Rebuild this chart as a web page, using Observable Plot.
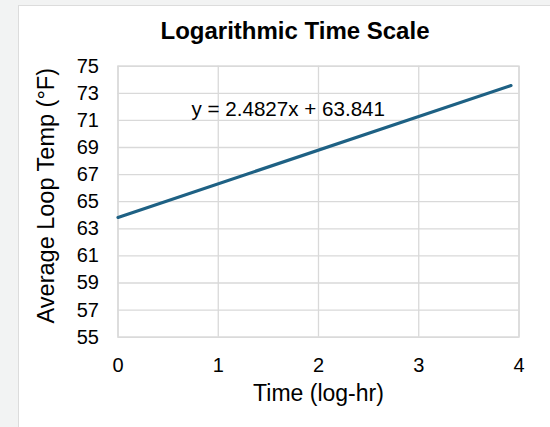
<!DOCTYPE html>
<html>
<head>
<meta charset="utf-8">
<script src="https://cdn.jsdelivr.net/npm/d3@7"></script>
<script src="https://cdn.jsdelivr.net/npm/@observablehq/plot@0.6"></script>
<style>
  html, body { margin: 0; padding: 0; }
  body { width: 550px; height: 427px; overflow: hidden; background: #f2f3f3; font-family: "Liberation Sans", Arial, sans-serif; }
  #wrap { position: relative; width: 550px; height: 427px; }
  #card { position: absolute; left: 18px; top: 5px; width: 560px; height: 440px; background: #fff; border: 1.5px solid #dcdcdc; box-sizing: border-box; }
  #title { position: absolute; left: 0; width: 590px; top: 16px; text-align: center; font-weight: bold; font-size: 24px; color: #000; line-height: 29px; white-space: nowrap; }
  #chart { position: absolute; left: 0; top: 0; }
  #chart g[aria-label="x-axis tick label"], #chart g[aria-label="y-axis tick label"] { font-size: 20px; }
</style>
</head>
<body>
<div id="wrap">
  <div id="card"></div>
  <div id="chart"></div>
  <div id="title"></div>
</div>
<script>
const chartTitle = "Logarithmic Time Scale";
const xLabel = "Time (log-hr)";
const yLabel = "Average Loop Temp (°F)";
const equation = "y = 2.4827x + 63.841";
const timeLog = [0, 3.92];
const tempF = [63.84, 73.57];
const xTicks = [0, 1, 2, 3, 4];
const yTicks = [55, 57, 59, 61, 63, 65, 67, 69, 71, 73, 75];

const data = timeLog.map((t, i) => ({t, v: tempF[i]}));
const gridColor = "#d9d9d9";
const lineColor = "#1e6184";

document.getElementById("title").textContent = chartTitle;

const plot = Plot.plot({
  width: 550,
  height: 427,
  marginLeft: 117.5,
  marginRight: 31.5,
  marginTop: 65.7,
  marginBottom: 90.3,
  style: {background: "transparent", fontFamily: "'Liberation Sans', Arial, sans-serif", fontSize: "20px", color: "#000", overflow: "visible"},
  x: {domain: [0, 4], label: null},
  y: {domain: [55, 75], label: null},
  marks: [
    Plot.gridX(xTicks, {stroke: gridColor, strokeOpacity: 1, strokeWidth: 1.3}),
    Plot.gridY(yTicks, {stroke: gridColor, strokeOpacity: 1, strokeWidth: 1.3}),
    Plot.frame({stroke: gridColor, strokeWidth: 1.3}),
    Plot.axisX(xTicks, {tickSize: 0, tickPadding: 21, fontSize: 20, fill: "#000", label: null}),
    Plot.axisY(yTicks, {tickSize: 0, tickPadding: 19, fontSize: 20, fill: "#000", label: null}),
    Plot.line(data, {x: "t", y: "v", stroke: lineColor, strokeWidth: 3.2, strokeLinecap: "round"}),
    Plot.text([equation], {frameAnchor: "top-left", textAnchor: "start", lineAnchor: "bottom", dx: 73.5, dy: 50, fontSize: 20.6, fill: "#000"}),
    Plot.text([xLabel], {frameAnchor: "bottom", textAnchor: "middle", lineAnchor: "bottom", dy: 63.5, fontSize: 23, fill: "#000"}),
    Plot.text([yLabel], {frameAnchor: "left", textAnchor: "middle", rotate: -90, dx: -71.4, dy: -6, fontSize: 23.5, fill: "#000"})
  ]
});
document.getElementById("chart").appendChild(plot);
</script>
</body>
</html>
